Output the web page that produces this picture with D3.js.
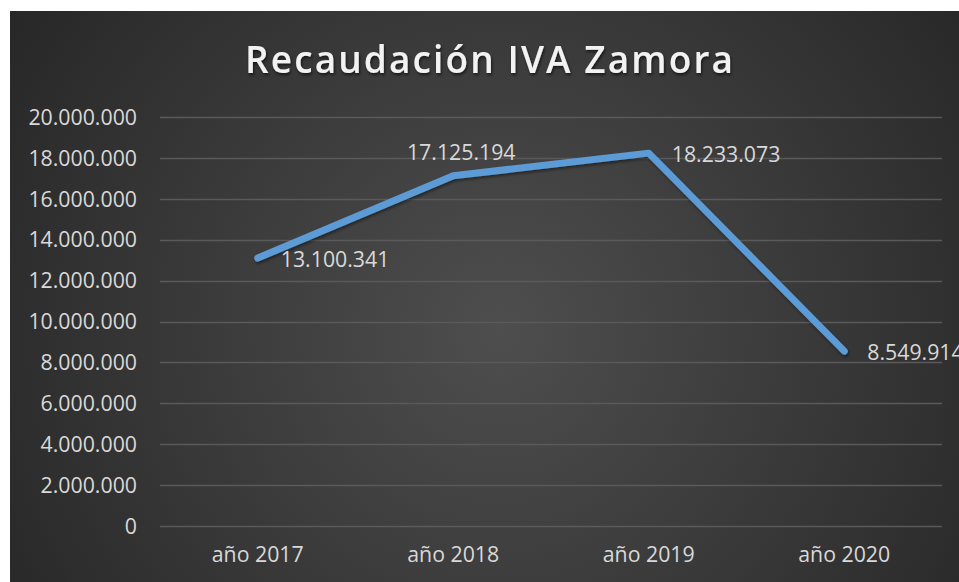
<!DOCTYPE html>
<html><head><meta charset="utf-8">
<script src="https://cdn.jsdelivr.net/npm/d3@7"></script>
<style>
html,body{margin:0;padding:0;background:#fff;}
svg{display:block;}
</style></head>
<body>
<script>
const categories = ["año 2017", "año 2018", "año 2019", "año 2020"];
const values = [13100341, 17125194, 18233073, 8549914];
const labelPositions = ["right", "above", "right", "right"];
const yTicks = [0, 2000000, 4000000, 6000000, 8000000, 10000000, 12000000, 14000000, 16000000, 18000000, 20000000];
const title = "Recaudación IVA Zamora";

const W = 959, H = 582;
const svg = d3.select("body").append("svg").attr("width", W).attr("height", H);
const defs = svg.append("defs");
const rg = defs.append("radialGradient").attr("id", "bg")
  .attr("gradientUnits", "userSpaceOnUse")
  .attr("cx", 500).attr("cy", 330).attr("r", 600);
rg.append("stop").attr("offset", "0%").attr("stop-color", "#4e4e4e");
rg.append("stop").attr("offset", "100%").attr("stop-color", "#262626");
const sh = defs.append("filter").attr("id", "tshadow").attr("x", "-10%").attr("y", "-30%").attr("width", "120%").attr("height", "160%");
sh.append("feDropShadow").attr("dx", 1).attr("dy", 2).attr("stdDeviation", 1.5).attr("flood-color", "#000").attr("flood-opacity", 0.6);
const lsh = defs.append("filter").attr("id", "lshadow").attr("x", "-10%").attr("y", "-10%").attr("width", "120%").attr("height", "130%");
lsh.append("feDropShadow").attr("dx", 1).attr("dy", 2).attr("stdDeviation", 1.5).attr("flood-color", "#000").attr("flood-opacity", 0.45);

svg.append("rect").attr("x", 10).attr("y", 11).attr("width", W - 10).attr("height", H - 11).attr("fill", "url(#bg)");

const font = "'Open Sans', 'Noto Sans', sans-serif";
const fs = 21.3;
const x = d3.scaleBand().domain(categories).range([160, 942]);
const y = d3.scaleLinear().domain([0, 20000000]).range([526, 117]);
const fmt = v => d3.format(",")(v).replace(/,/g, ".");

// gridlines
svg.append("g").selectAll("line").data(yTicks).join("line")
  .attr("x1", 160).attr("x2", 942)
  .attr("y1", d => Math.round(y(d)) + 0.5).attr("y2", d => Math.round(y(d)) + 0.5)
  .attr("stroke", "#5a5a5a").attr("stroke-width", 1.3);

// y axis
const yAxis = svg.append("g").attr("transform", "translate(160,0)")
  .call(d3.axisLeft(y).tickValues(yTicks).tickFormat(fmt).tickSize(0).tickPadding(23));
yAxis.select(".domain").remove();
yAxis.selectAll("text").attr("fill", "#d9d9d9").attr("font-family", font).attr("font-size", fs).attr("dy", "0.34em");

// x axis
const xAxis = svg.append("g").attr("transform", "translate(0,526)")
  .call(d3.axisBottom(x).tickSize(0).tickPadding(21));
xAxis.select(".domain").remove();
xAxis.selectAll("text").attr("fill", "#d9d9d9").attr("font-family", font).attr("font-size", fs);

// line
const data = categories.map((c, i) => ({c, v: values[i], pos: labelPositions[i]}));
const line = d3.line().x(d => x(d.c) + x.bandwidth() / 2).y(d => y(d.v));
svg.append("path").datum(data).attr("d", line)
  .attr("fill", "none").attr("stroke", "#5b9bd5").attr("stroke-width", 7)
  .attr("stroke-linejoin", "round").attr("stroke-linecap", "round")
  .attr("filter", "url(#lshadow)");

// data labels
svg.append("g").selectAll("text").data(data).join("text")
  .attr("x", d => x(d.c) + x.bandwidth() / 2 + (d.pos === "right" ? 23 : 8))
  .attr("y", d => y(d.v) + (d.pos === "right" ? 9 : -16))
  .attr("text-anchor", d => d.pos === "right" ? "start" : "middle")
  .attr("fill", "#d9d9d9").attr("font-family", font).attr("font-size", fs)
  .text(d => fmt(d.v));

// title
const t = svg.append("text").attr("x", 489).attr("y", 73).attr("text-anchor", "middle")
  .attr("fill", "#f2f2f2").attr("font-family", font).attr("font-weight", 600).attr("font-size", 37)
  .attr("filter", "url(#tshadow)").text(title);
const nat = t.node().getComputedTextLength();
const ls = (488 - nat) / (title.length - 1);
t.attr("letter-spacing", ls).attr("x", 489 + ls / 2);
</script>
</body></html>
